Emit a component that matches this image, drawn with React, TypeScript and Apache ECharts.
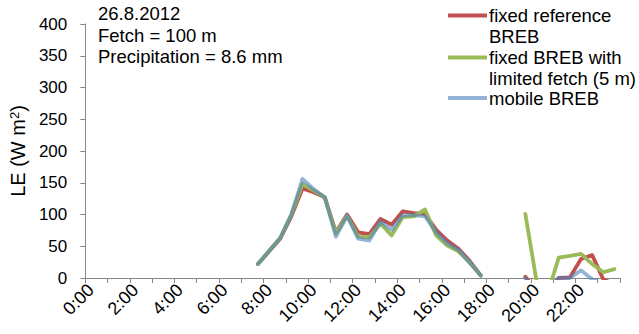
import React, { useEffect, useRef } from "react";
import * as echarts from "echarts";

const categories = [
  "0:00", "0:30", "1:00", "1:30", "2:00", "2:30", "3:00", "3:30",
  "4:00", "4:30", "5:00", "5:30", "6:00", "6:30", "7:00", "7:30",
  "8:00", "8:30", "9:00", "9:30", "10:00", "10:30", "11:00", "11:30",
  "12:00", "12:30", "13:00", "13:30", "14:00", "14:30", "15:00", "15:30",
  "16:00", "16:30", "17:00", "17:30", "18:00", "18:30", "19:00", "19:30",
  "20:00", "20:30", "21:00", "21:30", "22:00", "22:30", "23:00", "23:30",
];

const N = null;
const fixedReference = [
  N, N, N, N, N, N, N, N, N, N, N, N, N, N, N,
  22, 42, 62, 97, 141, 135, 127, 72, 100, 72, 69, 93, 84, 105, 102, 101, 76, 59, 46, 27, 4,
  N, N, N,
  2, -20, -20, 0, 1, 30, 36, -2, -10,
];
const fixedLimited = [
  N, N, N, N, N, N, N, N, N, N, N, N, N, N, N,
  22, 43, 63, 100, 148, 138, 127, 70, 98, 65, 64, 86, 67, 96, 97, 108, 67, 51, 42, 24, 4,
  N, N, N,
  101, -4, -25, 32, 35, 38, 22, 9, 14,
];
const mobile = [
  N, N, N, N, N, N, N, N, N, N, N, N, N, N, N,
  22, 42, 63, 100, 156, 140, 127, 65, 98, 62, 59, 89, 76, 99, 99, 97, 72, 55, 44, 25, 4,
  N, N, N,
  0, -20, -15, 0, 0, 12, -2, -10, N,
];

const seriesNames = ["fixed reference BREB", "fixed BREB with limited fetch (5 m)", "mobile BREB"];
const annotationLines = ["26.8.2012", "Fetch = 100 m", "Precipitation = 8.6 mm"];
const legendLines = [
  ["fixed reference", "BREB"],
  ["fixed BREB with", "limited fetch (5 m)"],
  ["mobile BREB"],
];

const FONT = "'Liberation Sans', Arial, sans-serif";
const RED = "#C0504D";
const GREEN = "#9BBB59";
const BLUE = "rgba(79,129,189,0.6)";
const AXIS = "#868686";

export default function App() {
  const ref = useRef<HTMLDivElement>(null);
  useEffect(() => {
    if (!ref.current) return;
    const chart = echarts.init(ref.current, null, { renderer: "svg" });
    const colors = [RED, GREEN, BLUE];
    const datas = [fixedReference, fixedLimited, mobile];

    const graphics: any[] = [];
    annotationLines.forEach((t, i) => {
      graphics.push({
        type: "text",
        x: 98,
        y: 13.5 + i * 21.5,
        style: {
          text: t,
          fontSize: 18.5,
          fontFamily: FONT,
          fill: "#000",
          verticalAlign: "middle",
          align: "left",
        },
      });
    });
    const legendY = [15.5, 57.5, 98];
    legendLines.forEach((lines, i) => {
      graphics.push({
        type: "line",
        shape: { x1: 448, y1: legendY[i], x2: 487, y2: legendY[i] },
        style: { stroke: colors[i], lineWidth: 4 },
      });
      lines.forEach((t, j) => {
        graphics.push({
          type: "text",
          x: 489,
          y: legendY[i] + j * 21,
          style: {
            text: t,
            fontSize: 18.5,
            fontFamily: FONT,
            fill: "#000",
            verticalAlign: "middle",
            align: "left",
          },
        });
      });
    });

    chart.setOption({
      animation: false,
      grid: { left: 82, right: 19, top: 24, bottom: 56 },
      xAxis: {
        type: "category",
        data: categories,
        axisLine: { show: true, lineStyle: { color: AXIS } },
        axisTick: { show: true, interval: 1, length: 5, lineStyle: { color: AXIS, width: 1 } },
        axisLabel: {
          interval: 3,
          rotate: 45,
          fontSize: 18,
          fontFamily: FONT,
          color: "#000",
          margin: 9,
        },
        splitLine: { show: false },
      },
      yAxis: {
        type: "value",
        min: 0,
        max: 400,
        interval: 50,
        name: "LE (W m{sup|2})",
        nameLocation: "middle",
        nameGap: 56,
        nameTextStyle: {
          fontSize: 20,
          fontFamily: FONT,
          color: "#000",
          rich: {
            sup: { fontSize: 13, fontFamily: FONT, color: "#000", verticalAlign: "top", lineHeight: 13 },
          },
        },
        axisLine: { show: true, lineStyle: { color: AXIS } },
        axisTick: { show: true, length: 5, lineStyle: { color: AXIS, width: 1 } },
        axisLabel: { fontSize: 17, fontFamily: FONT, color: "#000", margin: 18 },
        splitLine: { show: false },
      },
      series: datas.map((d, i) => ({
        name: seriesNames[i],
        type: "line",
        data: d,
        showSymbol: false,
        symbol: "none",
        lineStyle: { color: colors[i], width: 3.8, cap: "round", join: "round" },
        itemStyle: { color: colors[i] },
      })),
      graphic: graphics,
    });
    return () => chart.dispose();
  }, []);
  return (
    <div
      ref={ref}
      style={{ position: "fixed", left: 0, top: 0, width: 639, height: 334, background: "#fff" }}
    />
  );
}
